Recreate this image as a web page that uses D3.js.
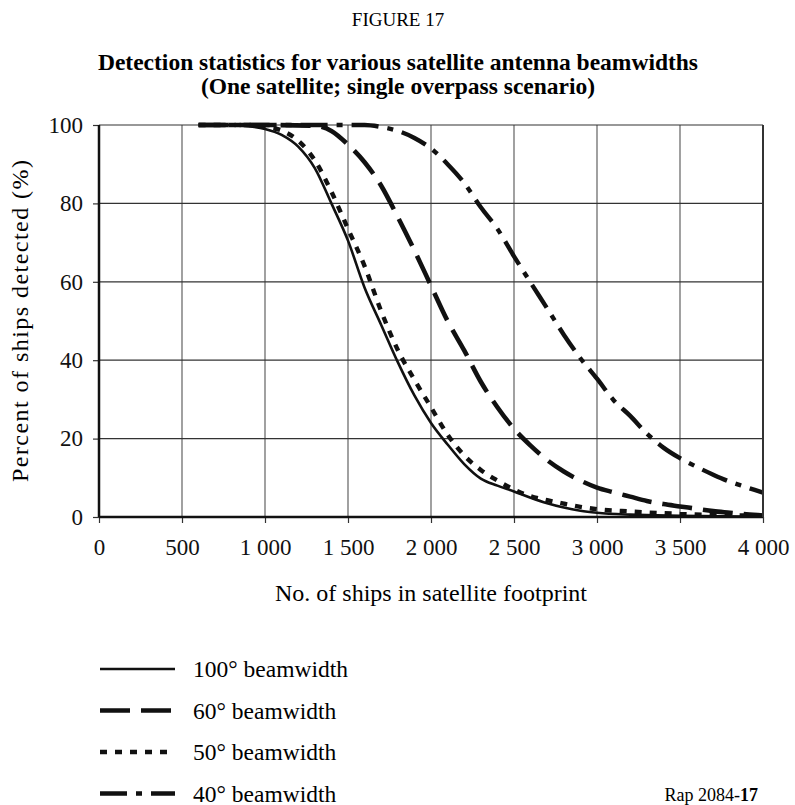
<!DOCTYPE html>
<html>
<head>
<meta charset="utf-8">
<script src="https://cdn.jsdelivr.net/npm/d3@7"></script>
<style>
  body { margin: 0; background: #fff; }
  svg { font-family: "Liberation Serif", "Times New Roman", serif; }
</style>
</head>
<body>
<div id="chart"></div>
<script>
// Detection statistics, one satellite, single overpass

// x: number of ships in footprint, y: percent detected
var xTicks = [0, 500, 1000, 1500, 2000, 2500, 3000, 3500, 4000];
var yTicks = [0, 20, 40, 60, 80, 100];

var ships100 = [600, 800, 900, 1000, 1100, 1200, 1300, 1400, 1500, 1600, 1700, 1800, 1900, 2000, 2100, 2200, 2300, 2400, 2500, 2600, 2700, 2800, 2900, 3000, 3200, 3500, 4000];
var pct100   = [100, 100, 99.7, 99, 97.5, 94.5, 89, 80, 70.5, 58.5, 49, 39.5, 31, 24, 18.5, 13.5, 9.8, 8, 6.5, 4.9, 3.5, 2.4, 1.6, 1.1, 0.6, 0.3, 0.1];

var ships60 = [600, 1000, 1300, 1400, 1500, 1600, 1700, 1800, 1900, 2000, 2100, 2200, 2300, 2400, 2500, 2600, 2700, 2800, 2900, 3000, 3100, 3200, 3300, 3400, 3500, 3600, 3700, 3800, 3900, 4000];
var pct60   = [100, 100, 99.8, 98.5, 95, 90.5, 84.5, 76.5, 68, 59, 50, 42.5, 34.5, 28, 22.5, 18.2, 14.5, 11.6, 9.3, 7.5, 6.3, 5.2, 4.1, 3.3, 2.7, 2.1, 1.5, 1.1, 0.7, 0.4];

var ships50 = [600, 900, 1000, 1100, 1200, 1300, 1400, 1500, 1600, 1700, 1800, 1900, 2000, 2100, 2200, 2300, 2400, 2500, 2600, 2700, 2800, 2900, 3000, 3200, 3500, 4000];
var pct50   = [100, 100, 99.5, 98.6, 96, 91, 83, 73.5, 64, 52.5, 42.6, 35, 28, 21, 15.7, 12, 9.3, 7, 5.3, 4.3, 3.4, 2.6, 2, 1.4, 0.8, 0.3];

var ships40 = [600, 1200, 1600, 1700, 1800, 1900, 2000, 2100, 2200, 2300, 2400, 2500, 2600, 2700, 2800, 2900, 3000, 3100, 3200, 3300, 3400, 3500, 3600, 3700, 3800, 3900, 4000];
var pct40   = [100, 100, 100, 99.5, 98.5, 96.7, 94, 90, 85.2, 79, 73.5, 66.5, 59.8, 53.2, 46.5, 40.5, 35.3, 29.8, 25.8, 21.3, 17.7, 15, 12.8, 10.8, 9, 7.6, 6.2];

var seriesNames = ["100\u00b0 beamwidth", "60\u00b0 beamwidth", "50\u00b0 beamwidth", "40\u00b0 beamwidth"];

var width = 795, height = 805;
var margin = {left: 99, top: 125, right: 32, bottom: 288};
var plotW = width - margin.left - margin.right;
var plotH = height - margin.top - margin.bottom;

var svg = d3.select("#chart")
    .append("svg")
    .attr("width", width)
    .attr("height", height);

// line styles for each beamwidth
var styles = [
    {w: 2.6, dash: null},
    {w: 4.6, dash: "30,11"},
    {w: 4.4, dash: "7,8"},
    {w: 4.4, dash: "27,9,6,9"}
];

var series = [
    d3.zip(ships100, pct100),
    d3.zip(ships60, pct60),
    d3.zip(ships50, pct50),
    d3.zip(ships40, pct40)
];

var x = d3.scaleLinear().domain([0, 4000]).range([0, plotW]);
var y = d3.scaleLinear().domain([0, 100]).range([plotH, 0]);

var fmt = d3.formatLocale({decimal: ".", thousands: "\u00a0", grouping: [3], currency: ["", ""]}).format(",");

// titles
svg.append("text")
    .attr("x", 398).attr("y", 26)
    .attr("text-anchor", "middle")
    .style("font-size", "19px")
    .text("FIGURE 17");

svg.append("text")
    .attr("x", 398).attr("y", 70)
    .attr("text-anchor", "middle")
    .style("font-size", "23.5px")
    .style("font-weight", "bold")
    .text("Detection statistics for various satellite antenna beamwidths");

svg.append("text")
    .attr("x", 398).attr("y", 94)
    .attr("text-anchor", "middle")
    .style("font-size", "23.5px")
    .style("font-weight", "bold")
    .text("(One satellite; single overpass scenario)");

var g = svg.append("g")
    .attr("transform", "translate(" + margin.left + "," + margin.top + ")");

// grid
g.selectAll(".vgrid")
    .data(xTicks.filter(function(d) { return d > 0; }))
    .enter().append("line")
    .attr("class", "vgrid")
    .attr("x1", function(d) { return x(d); })
    .attr("x2", function(d) { return x(d); })
    .attr("y1", 0).attr("y2", plotH)
    .attr("stroke", "#6e6e6e")
    .attr("stroke-width", 1.3);

g.selectAll(".hgrid")
    .data(yTicks.filter(function(d) { return d > 0; }))
    .enter().append("line")
    .attr("class", "hgrid")
    .attr("x1", 0).attr("x2", plotW)
    .attr("y1", function(d) { return y(d); })
    .attr("y2", function(d) { return y(d); })
    .attr("stroke", "#333")
    .attr("stroke-width", 1.2);

// curves
var line = d3.line()
    .x(function(d) { return x(d[0]); })
    .y(function(d) { return y(d[1]); })
    .curve(d3.curveMonotoneX);

g.selectAll(".curve")
    .data(series)
    .enter().append("path")
    .attr("class", "curve")
    .attr("d", line)
    .attr("fill", "none")
    .attr("stroke", "#111")
    .attr("stroke-width", function(d, i) { return styles[i].w; })
    .attr("stroke-dasharray", function(d, i) { return styles[i].dash; });

// axes
var yAxis = g.append("g")
    .call(d3.axisLeft(y).tickValues(yTicks).tickSize(6).tickPadding(10));
var xAxis = g.append("g")
    .attr("transform", "translate(0," + plotH + ")")
    .call(d3.axisBottom(x).tickValues(xTicks).tickSize(6).tickPadding(16).tickFormat(fmt));

[xAxis, yAxis].forEach(function(a) {
    a.select(".domain").remove();
    a.selectAll(".tick line").attr("stroke", "#333").attr("stroke-width", 1.2);
    a.selectAll("text")
        .style("font-family", "Liberation Serif, serif")
        .style("font-size", "23px")
        .attr("fill", "#111");
});

g.append("line")
    .attr("x1", 0).attr("x2", 0).attr("y1", 0).attr("y2", plotH)
    .attr("stroke", "#111").attr("stroke-width", 2.5);
g.append("line")
    .attr("x1", 0).attr("x2", plotW).attr("y1", plotH).attr("y2", plotH)
    .attr("stroke", "#111").attr("stroke-width", 2.5);
g.append("line")
    .attr("x1", plotW).attr("x2", plotW).attr("y1", 0).attr("y2", plotH)
    .attr("stroke", "#333").attr("stroke-width", 2);

// axis titles
svg.append("text")
    .attr("x", 431).attr("y", 601)
    .attr("text-anchor", "middle")
    .style("font-size", "24px")
    .text("No. of ships in satellite footprint");

svg.append("text")
    .attr("transform", "translate(28," + (margin.top + plotH / 2) + ") rotate(-90)")
    .attr("text-anchor", "middle")
    .attr("textLength", 322)
    .attr("lengthAdjust", "spacing")
    .style("font-size", "24px")
    .text("Percent of ships detected (%)");

// legend
var legend = svg.selectAll(".legend")
    .data(seriesNames)
    .enter().append("g")
    .attr("class", "legend")
    .attr("transform", function(d, i) { return "translate(100," + (669 + i * 41.5) + ")"; });

legend.append("line")
    .attr("x1", 0).attr("x2", 75)
    .attr("y1", 0).attr("y2", 0)
    .attr("stroke", "#111")
    .attr("stroke-width", function(d, i) { return styles[i].w; })
    .attr("stroke-dasharray", function(d, i) { return styles[i].dash; });

legend.append("text")
    .attr("x", 93).attr("y", 8)
    .style("font-size", "23.5px")
    .text(function(d) { return d; });

var rap = svg.append("text")
    .attr("x", 758).attr("y", 801)
    .attr("text-anchor", "end")
    .style("font-size", "18px");
rap.append("tspan").text("Rap 2084-");
rap.append("tspan").style("font-weight", "bold").text("17");
</script>
</body>
</html>
